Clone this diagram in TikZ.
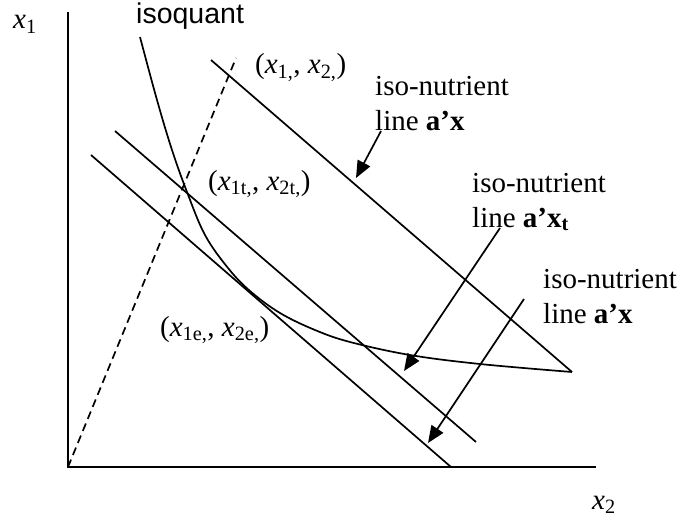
\documentclass[tikz,border=0pt]{standalone}
\usepackage{fontspec}
\setmainfont{Liberation Serif}
\newfontfamily\arialfont{Liberation Sans}
\usetikzlibrary{arrows.meta}
\newcommand{\vx}[1]{\textit{x}\textsubscript{#1}}
\newcommand{\twoline}[2]{\begin{tabular}[t]{@{}l@{}}#1\\#2\end{tabular}}
\begin{document}
\begin{tikzpicture}[x=1pt,y=-1pt,
  curve/.style={line width=1.7pt},
  axis/.style={line width=2.2pt},
  lbl/.style={inner sep=0pt, anchor=base west, font=\fontsize{29}{35}\selectfont},
  ptr/.style={line width=1.7pt, -{Triangle[length=17pt,width=14pt]}},
]
\useasboundingbox (0,0) rectangle (682,519);
% axes
\coordinate (O) at (68,467);
\coordinate (ytop) at (68,12);
\coordinate (xend) at (596,467);
\draw[axis] (ytop) -- (O) -- (xend);
% ray
\coordinate (raytop) at (236,58);
\draw[curve, dash pattern=on 8pt off 5pt] (O) -- (raytop);
% iso-nutrient lines
\coordinate (a1) at (211,60);  \coordinate (a2) at (572,372);
\coordinate (b1) at (115,131); \coordinate (b2) at (476,442);
\coordinate (c1) at (91,155);  \coordinate (c2) at (451,467);
\draw[curve] (a1) -- (a2);
\draw[curve] (b1) -- (b2);
\draw[curve] (c1) -- (c2);
% isoquant
\draw[curve] plot[smooth, tension=0.6] coordinates {(140,37) (157,100) (172,150) (187,192) (205,235) (228,268) (250,291) (280,313) (315,330) (350,342) (410,355) (480,364) (572,372)};
% labels
\node[lbl] (lx1) at (13,29) {\vx{1}};
\node[lbl] (lx2) at (592,509) {\vx{2}};
\node[lbl, font=\fontsize{28.5}{34}\arialfont] (liso) at (136,24) {isoquant};
\node[lbl] (pa) at (255,74) {(\vx{1,}, \vx{2,})};
\node[lbl] (pt) at (208,190) {(\vx{1t,}, \vx{2t,})};
\node[lbl] (pe) at (160,336) {(\vx{1e,}, \vx{2e,})};
\node[lbl] (n1) at (375,95) {\twoline{iso-nutrient}{line \textbf{a’x}}};
\node[lbl] (n2) at (472,192) {\twoline{iso-nutrient}{line \textbf{a’x\textsubscript{t}}}};
\node[lbl] (n3) at (543,288) {\twoline{iso-nutrient}{line \textbf{a’x}}};
% pointers
\coordinate (s1) at (381,131); \coordinate (t1) at (356,178);
\coordinate (s2) at (500,228); \coordinate (t2) at (404,371);
\coordinate (s3) at (524,299); \coordinate (t3) at (428,443);
\draw[ptr] (s1) -- (t1);
\draw[ptr] (s2) -- (t2);
\draw[ptr] (s3) -- (t3);
\end{tikzpicture}
\end{document}
